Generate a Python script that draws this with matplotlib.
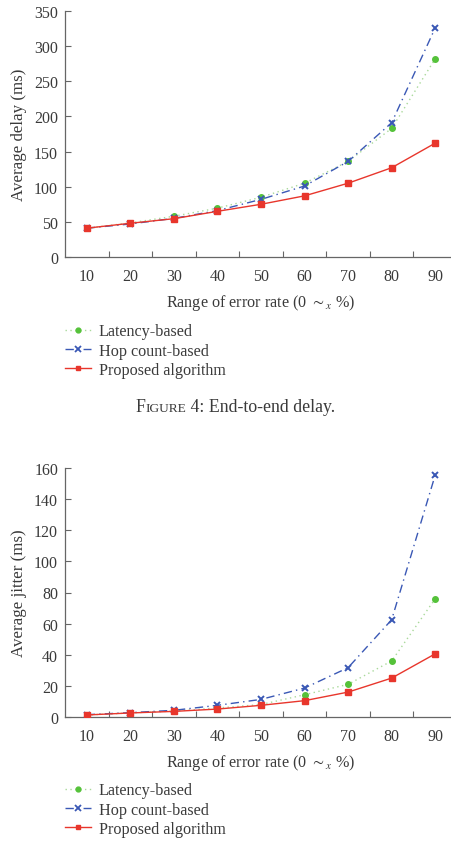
import matplotlib
matplotlib.use("Agg")
import matplotlib.pyplot as plt
from matplotlib.lines import Line2D

plt.rcParams['font.family'] = ['Liberation Serif', 'DejaVu Serif']
plt.rcParams['mathtext.fontset'] = 'stix'

categories = ["10", "20", "30", "40", "50", "60", "70", "80", "90"]

delay_latency = [41, 48.5, 58, 69.5, 85, 105, 136, 183, 282]
delay_hop = [41, 47, 55, 66, 82, 101, 136, 191, 326]
delay_proposed = [41, 48, 54.5, 65, 75, 87, 105, 127, 162]

jitter_latency = [1.3, 2.6, 3.8, 5.8, 8.0, 14.3, 21, 36, 76]
jitter_hop = [1.5, 2.8, 4.3, 7.5, 11.3, 18.6, 31.7, 62.5, 155.5]
jitter_proposed = [1.3, 2.6, 3.6, 5.1, 7.5, 10.5, 16, 25, 40.6]

series_labels = ["Latency-based", "Hop count-based", "Proposed algorithm"]

W, H = 451, 845
fig = plt.figure(figsize=(W / 100, H / 100), dpi=100)

TXT = '#3a3a3a'
AXC = '#666666'
GREEN_LINE = '#a9d99a'
GREEN_MK = '#55c23a'
BLUE = '#3a58b5'
RED = '#e8362c'
FS_TICK = 11.5
FS_LAB = 11.6
FS_LEG = 11.6


def px(x0, ytop, x1, ybot):
    return [x0 / W, 1 - ybot / H, (x1 - x0) / W, (ybot - ytop) / H]


def make_panel(rect, lat, hop, prop, ymax, ystep, ylabel, legend_y):
    ax = fig.add_axes(rect)
    x = list(range(len(categories)))
    ax.plot(x, lat, linestyle=(0, (1, 2.5)), color=GREEN_LINE, lw=1.0,
            marker='o', ms=4, mfc=GREEN_MK, mec=GREEN_MK, zorder=3)
    ax.plot(x, hop, linestyle=(0, (6, 3, 1, 3)), color=BLUE, lw=1.0,
            marker='x', ms=4.5, mew=1.4, mec=BLUE, zorder=4)
    ax.plot(x, prop, linestyle='-', color=RED, lw=1.0,
            marker='s', ms=4, mfc=RED, mec=RED, zorder=5)
    ax.set_xlim(-0.5, len(categories) - 0.5)
    ax.set_ylim(0, ymax)
    ax.set_yticks(range(0, ymax + 1, ystep))
    ax.set_xticks(x)
    ax.set_xticklabels(categories)
    ax.set_xticks([i + 0.5 for i in range(len(categories) - 1)], minor=True)
    ax.tick_params(axis='x', which='major', length=0, pad=8, labelsize=FS_TICK, labelcolor=TXT)
    ax.tick_params(axis='x', which='minor', direction='in', length=4, color=AXC, width=0.8)
    ax.tick_params(axis='y', direction='in', length=4, color=AXC, width=0.8,
                   labelsize=FS_TICK, labelcolor=TXT, pad=5)
    for s in ['top', 'right']:
        ax.spines[s].set_visible(False)
    for s in ['left', 'bottom']:
        ax.spines[s].set_color(AXC)
        ax.spines[s].set_linewidth(0.9)
    ax.set_ylabel(ylabel, fontsize=12.2, color=TXT, labelpad=5)
    ax.set_xlabel("Range of error rate (0 $\\sim_{x}$ %)", fontsize=FS_LAB, color=TXT, labelpad=6)
    handles = [
        Line2D([], [], linestyle=(0, (1, 2.5)), color=GREEN_LINE, lw=1.0,
               marker='o', ms=3.5, mfc=GREEN_MK, mec=GREEN_MK),
        Line2D([], [], linestyle=(0, (6, 3, 1, 3)), color=BLUE, lw=1.0,
               marker='x', ms=4, mew=1.3, mec=BLUE),
        Line2D([], [], linestyle='-', color=RED, lw=1.0,
               marker='s', ms=3.5, mfc=RED, mec=RED),
    ]
    fig.legend(handles, series_labels, loc='upper left',
               bbox_to_anchor=(65 / W, 1 - legend_y / H), frameon=False,
               fontsize=FS_LEG, handlelength=1.6, handletextpad=0.5,
               labelspacing=0.2, borderaxespad=0, borderpad=0,
               labelcolor=TXT)
    return ax


make_panel(px(65, 12, 457, 258), delay_latency, delay_hop, delay_proposed,
           350, 50, "Average delay (ms)", 324.5)
make_panel(px(65, 469, 457, 718), jitter_latency, jitter_hop, jitter_proposed,
           160, 20, "Average jitter (ms)", 783.5)

# Caption with small caps "Figure"
fig.canvas.draw()
r = fig.canvas.get_renderer()
cap_y = 1 - 412 / H
parts = [("F", 12.8), ("IGURE", 9.6), (" 4: End-to-end delay.", 12.8)]
texts = []
for s, fs in parts:
    texts.append(fig.text(0, cap_y, s, fontsize=fs, color=TXT, va='baseline', ha='left'))
widths = [t.get_window_extent(r).width for t in texts]
total = sum(widths)
x0 = 235 - total / 2
for t, w in zip(texts, widths):
    t.set_x(x0 / W)
    x0 += w

fig.savefig("out.png", dpi=100)
